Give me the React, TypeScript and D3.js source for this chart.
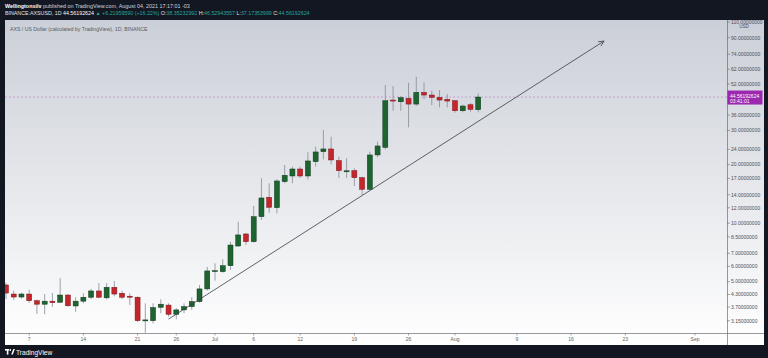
import React from "react";
import * as d3 from "d3";

// ---------- data ----------
const dates = [
  "2021-06-04","2021-06-05","2021-06-06","2021-06-07","2021-06-08","2021-06-09","2021-06-10","2021-06-11",
  "2021-06-12","2021-06-13","2021-06-14","2021-06-15","2021-06-16","2021-06-17","2021-06-18","2021-06-19",
  "2021-06-20","2021-06-21","2021-06-22","2021-06-23","2021-06-24","2021-06-25","2021-06-26","2021-06-27",
  "2021-06-28","2021-06-29","2021-06-30","2021-07-01","2021-07-02","2021-07-03","2021-07-04","2021-07-05",
  "2021-07-06","2021-07-07","2021-07-08","2021-07-09","2021-07-10","2021-07-11","2021-07-12","2021-07-13",
  "2021-07-14","2021-07-15","2021-07-16","2021-07-17","2021-07-18","2021-07-19","2021-07-20","2021-07-21",
  "2021-07-22","2021-07-23","2021-07-24","2021-07-25","2021-07-26","2021-07-27","2021-07-28","2021-07-29",
  "2021-07-30","2021-07-31","2021-08-01","2021-08-02","2021-08-03","2021-08-04",
];
const opens = [
  4.81, 4.32, 4.17, 4.32, 3.99, 3.83, 3.97, 3.92,
  4.27, 3.75, 3.97, 4.16, 4.48, 4.13, 4.68, 4.36,
  4.21, 4.16, 3.17, 3.15, 3.69, 3.79, 3.40, 3.58,
  3.72, 3.95, 4.59, 5.68, 5.63, 6.04, 7.63, 8.80,
  8.03, 10.80, 13.59, 12.02, 16.35, 17.49, 19.00, 17.49,
  20.72, 23.33, 24.09, 20.98, 18.41, 18.63, 17.14, 14.94,
  22.44, 24.55, 43.00, 42.14, 43.88, 41.00, 47.11, 45.63,
  44.40, 43.36, 42.65, 37.88, 40.67, 38.35232992,
];
const highs = [
  4.93, 4.49, 4.39, 4.55, 4.05, 4.32, 4.37, 5.22,
  4.32, 4.16, 4.36, 4.59, 4.92, 4.92, 5.04, 4.49,
  4.36, 4.20, 3.87, 3.87, 4.06, 3.87, 3.65, 3.87,
  4.16, 4.81, 5.96, 6.22, 6.52, 8.03, 10.18, 8.90,
  12.26, 17.02, 16.05, 16.82, 19.93, 19.53, 19.53, 23.17,
  24.75, 30.17, 27.87, 21.99, 21.58, 19.16, 17.35, 23.33,
  26.26, 51.37, 50.76, 45.10, 52.79, 56.68, 53.03, 48.01,
  48.41, 46.17, 43.00, 40.67, 41.50, 46.52943557,
];
const lows = [
  4.07, 4.03, 4.09, 3.89, 3.42, 3.40, 3.71, 3.90,
  3.72, 3.50, 3.87, 4.07, 4.11, 4.05, 4.21, 4.07,
  3.79, 3.10, 2.73, 3.05, 3.44, 3.30, 3.20, 3.44,
  3.58, 3.90, 4.50, 5.06, 5.56, 5.75, 7.57, 7.72,
  7.94, 10.39, 11.32, 11.24, 16.05, 16.05, 17.09, 16.80,
  19.53, 21.32, 20.10, 17.09, 17.09, 15.54, 13.97, 14.80,
  21.81, 23.98, 37.88, 37.88, 31.12, 40.06, 43.36, 40.53,
  39.44, 39.44, 36.99, 37.20, 37.45, 37.17353999,
];
const closes = [
  4.37, 4.17, 4.32, 3.99, 3.83, 3.97, 3.90, 4.27,
  3.76, 3.97, 4.16, 4.48, 4.16, 4.68, 4.32, 4.16,
  4.19, 3.15, 3.18, 3.68, 3.83, 3.40, 3.58, 3.72,
  3.95, 4.59, 5.68, 5.70, 6.04, 7.72, 8.70, 8.03,
  10.80, 13.48, 12.07, 16.49, 17.64, 19.00, 17.49, 20.90,
  23.25, 24.09, 21.15, 18.63, 18.60, 17.14, 14.94, 22.44,
  24.96, 42.65, 42.50, 44.19, 41.00, 47.11, 45.63, 44.40,
  43.00, 42.50, 37.88, 40.06, 38.52, 44.56192624,
];
const yTickValues = [110, 90, 74, 62, 52, 36, 30, 24, 20, 17, 14, 12, 10, 8.5, 7, 6, 5, 4.3, 3.7, 3.15];
const xTickDates = [
  "2021-06-07","2021-06-14","2021-06-21","2021-06-26","2021-07-01","2021-07-06","2021-07-12",
  "2021-07-19","2021-07-26","2021-08-01","2021-08-09","2021-08-16","2021-08-23","2021-09-01",
];
const xTickLabels = ["7","14","21","26","Jul","6","12","19","26","Aug","9","16","23","Sep"];
const lastPrice = 44.56192624;
const countdown = "03:41:01";
const trendTimes = ["2021-06-25T00:00:00Z", "2021-08-20T06:00:00Z"];
const trendPrices = [3.21, 86.5];

const FONT = "'Liberation Sans', Arial, sans-serif";

export default function App() {
  const W = 768, H = 358;
  const panel = { x0: 5, y0: 20, x1: 764, y1: 345 };
  const axisX = 727;
  const axisY = 333;

  const parse = (s: string) => new Date(s + "T00:00:00Z");
  const x = d3.scaleUtc().domain([parse("2021-07-01"), parse("2021-09-01")]).range([215, 695]);
  const y = d3.scaleLog().domain([3.15, 90]).range([320.7, 37.7]);
  const bodyW = 5;

  const candles = dates.map((d, i) => ({
    cx: x(parse(d)),
    o: opens[i], h: highs[i], l: lows[i], c: closes[i],
  }));

  const tx0 = x(new Date(trendTimes[0])), ty0 = y(trendPrices[0]);
  const tx1 = x(new Date(trendTimes[1])), ty1 = y(trendPrices[1]);
  const ang = Math.atan2(ty1 - ty0, tx1 - tx0);
  const ah = 6;
  const a1 = [tx1 - ah * Math.cos(ang - 0.45), ty1 - ah * Math.sin(ang - 0.45)];
  const a2 = [tx1 - ah * Math.cos(ang + 0.45), ty1 - ah * Math.sin(ang + 0.45)];

  const ly = y(lastPrice);
  const green = "#26a69a";

  return (
    <div style={{ position: "fixed", left: 0, top: 0, width: W, height: H }}>
      <svg width={W} height={H} viewBox={`0 0 ${W} ${H}`} style={{ display: "block" }}>
        <defs>
          <linearGradient id="bg" x1="0" y1="0" x2="0" y2="1">
            <stop offset="0" stopColor="#cbcfd7" />
            <stop offset="1" stopColor="#ffffff" />
          </linearGradient>
          <clipPath id="plot">
            <rect x={panel.x0} y={panel.y0} width={axisX - panel.x0} height={axisY - panel.y0} />
          </clipPath>
        </defs>
        <rect x={0} y={0} width={W} height={H} fill="#131722" />
        <rect x={panel.x0} y={panel.y0} width={panel.x1 - panel.x0} height={panel.y1 - panel.y0} fill="url(#bg)" />

        {/* header */}
        <text x={5} y={7.5} fontFamily={FONT} fontSize={5.4} fill="#d1d4dc">
          <tspan fontWeight="bold" fill="#ffffff">Wellingtonsilv</tspan>
          <tspan> published on TradingView.com, August 04, 2021 17:17:01 -03</tspan>
        </text>
        <text x={5} y={14.5} fontFamily={FONT} fontSize={5.3} fill="#e0e3eb">
          <tspan>BINANCE:AXSUSD, 1D </tspan>
          <tspan fill="#ffffff">44.56192624 </tspan>
          <tspan fill={green}>▲ +6.21959590 (+16.22%) </tspan>
          <tspan>O:</tspan><tspan fill={green}>38.35232992 </tspan>
          <tspan>H:</tspan><tspan fill={green}>46.52943557 </tspan>
          <tspan>L:</tspan><tspan fill={green}>37.17353999 </tspan>
          <tspan>C:</tspan><tspan fill={green}>44.56192624</tspan>
        </text>

        {/* legend */}
        <text x={10} y={31} fontFamily={FONT} fontSize={5.2} fill="#555a64">
          AXS / US Dollar (calculated by TradingView), 1D, BINANCE
        </text>

        {/* last price dashed line */}
        <line x1={panel.x0} x2={axisX} y1={ly} y2={ly} stroke="#b865c6" strokeWidth={0.6} strokeDasharray="2,2" opacity={0.8} />

        {/* candles */}
        <g clipPath="url(#plot)">
          {candles.map((k, i) => {
            const up = k.c >= k.o;
            const top = y(Math.max(k.o, k.c));
            const bot = y(Math.min(k.o, k.c));
            const hgt = Math.max(1, bot - top);
            return (
              <g key={i}>
                <line x1={k.cx} x2={k.cx} y1={y(k.h)} y2={y(k.l)} stroke="#868b94" strokeWidth={0.8} />
                <rect x={k.cx - bodyW / 2} y={top} width={bodyW} height={hgt}
                  fill={up ? "#1d6430" : "#c4262c"} stroke={up ? "#0f3a1a" : "#7c151a"} strokeWidth={0.5} />
              </g>
            );
          })}
          {/* trend line */}
          <line x1={tx0} y1={ty0} x2={tx1} y2={ty1} stroke="#3a3d45" strokeWidth={0.8} />
          <line x1={tx1} y1={ty1} x2={a1[0]} y2={a1[1]} stroke="#3a3d45" strokeWidth={0.8} />
          <line x1={tx1} y1={ty1} x2={a2[0]} y2={a2[1]} stroke="#3a3d45" strokeWidth={0.8} />
        </g>

        {/* axes lines */}
        <line x1={axisX + 0.5} x2={axisX + 0.5} y1={panel.y0} y2={panel.y1} stroke="#6a6e78" strokeWidth={0.7} />
        <line x1={panel.x0} x2={panel.x1} y1={axisY + 0.5} y2={axisY + 0.5} stroke="#6a6e78" strokeWidth={0.7} />

        {/* y axis */}
        {yTickValues.map((v, i) => {
          const py = i === 0 ? 22 : y(v);
          return (
            <g key={i}>
              <line x1={axisX} x2={axisX + 3} y1={py} y2={py} stroke="#6a6e78" strokeWidth={0.6} />
              <text x={731} y={py + 1.8} fontFamily={FONT} fontSize={5} fill="#4a4e58">
                {v.toFixed(8)}
              </text>
            </g>
          );
        })}
        <text x={744} y={28.3} fontFamily={FONT} fontSize={4.6} fill="#4a4e58" textAnchor="middle">USD</text>

        {/* last price label */}
        <rect x={axisX + 0.5} y={ly - 6.5} width={35} height={14} fill="#9c27b0" />
        <text x={axisX + 3} y={ly + 0.5} fontFamily={FONT} fontSize={5} fill="#ffffff">
          {lastPrice.toFixed(8)}
        </text>
        <text x={axisX + 3} y={ly + 6} fontFamily={FONT} fontSize={5} fill="#ffffff">
          {countdown}
        </text>

        {/* x axis */}
        {xTickDates.map((d, i) => {
          const px = x(parse(d));
          return (
            <g key={i}>
              <line x1={px} x2={px} y1={axisY} y2={axisY + 2.5} stroke="#6a6e78" strokeWidth={0.6} />
              <text x={px} y={340.8} fontFamily={FONT} fontSize={5} fill="#5a5e68" textAnchor="middle">
                {xTickLabels[i]}
              </text>
            </g>
          );
        })}

        {/* footer logo */}
        <g fill="#ffffff">
          <rect x={5} y={349} width={4} height={1.6} />
          <rect x={6.8} y={349} width={1.6} height={5.6} />
          <circle cx={10.3} cy={350} r={0.9} />
          <path d="M11.2,354.6 L13.3,349 L14.9,349 L12.8,354.6 Z" />
        </g>
        <text x={16} y={354.5} fontFamily={FONT} fontSize={6.6} fill="#ffffff">TradingView</text>
      </svg>
    </div>
  );
}
